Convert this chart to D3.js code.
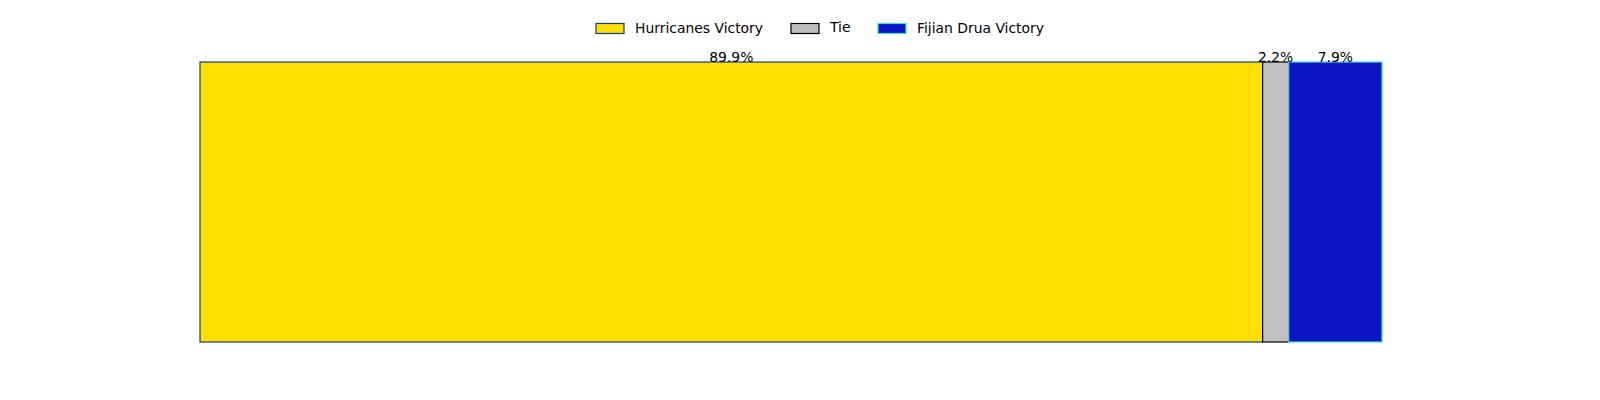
<!DOCTYPE html>
<html><head><meta charset="utf-8">
<script src="https://cdn.jsdelivr.net/npm/d3@7"></script>
<style>body{margin:0;background:#fff}svg{display:block}text{font-family:"DejaVu Sans",sans-serif}</style>
</head><body><svg id="c" width="1600" height="400"></svg>
<script>
const categories = ["Hurricanes Victory", "Tie", "Fijian Drua Victory"];
const values = [89.9, 2.2, 7.9];
const labels = ["89.9%", "2.2%", "7.9%"];
const fills = ["#FFDE00", "#C0C0C0", "#0B16C2"];
const strokes = ["#0B3D91", "#000000", "#40E0D0"];

const svg = d3.select("#c");
const total = d3.sum(values);
const x = d3.scaleLinear().domain([0, total]).range([200, 1382]);
const y = d3.scaleBand().domain(["match"]).range([62, 342]).padding(0);

let cum = 0;
const segs = values.map((v, i) => { const s = {i, v, x0: cum, x1: cum + v}; cum += v; return s; });

svg.selectAll("rect.bar").data(segs).join("rect").attr("class", "bar")
  .attr("x", d => x(d.x0)).attr("width", d => x(d.x1) - x(d.x0))
  .attr("y", y("match")).attr("height", y.bandwidth())
  .attr("fill", d => fills[d.i]).attr("stroke", d => strokes[d.i]).attr("stroke-width", 1.2);

svg.selectAll("text.lab").data(segs).join("text").attr("class", "lab")
  .attr("x", d => (x(d.x0) + x(d.x1)) / 2).attr("y", y("match") - 0.5)
  .attr("text-anchor", "middle").attr("font-size", 13.9).attr("fill", "#000")
  .text(d => labels[d.i]);

// legend
const legX = [596, 791, 878];
const lg = svg.append("g");
categories.forEach((c, i) => {
  lg.append("rect").attr("x", legX[i]).attr("y", 23.5).attr("width", 28).attr("height", 10)
    .attr("fill", fills[i]).attr("stroke", strokes[i]).attr("stroke-width", 1.2);
  lg.append("text").attr("x", legX[i] + 39).attr("y", i === 1 ? 32 : 33)
    .attr("font-size", 13.9).attr("fill", "#000").text(c);
});
</script></body></html>
